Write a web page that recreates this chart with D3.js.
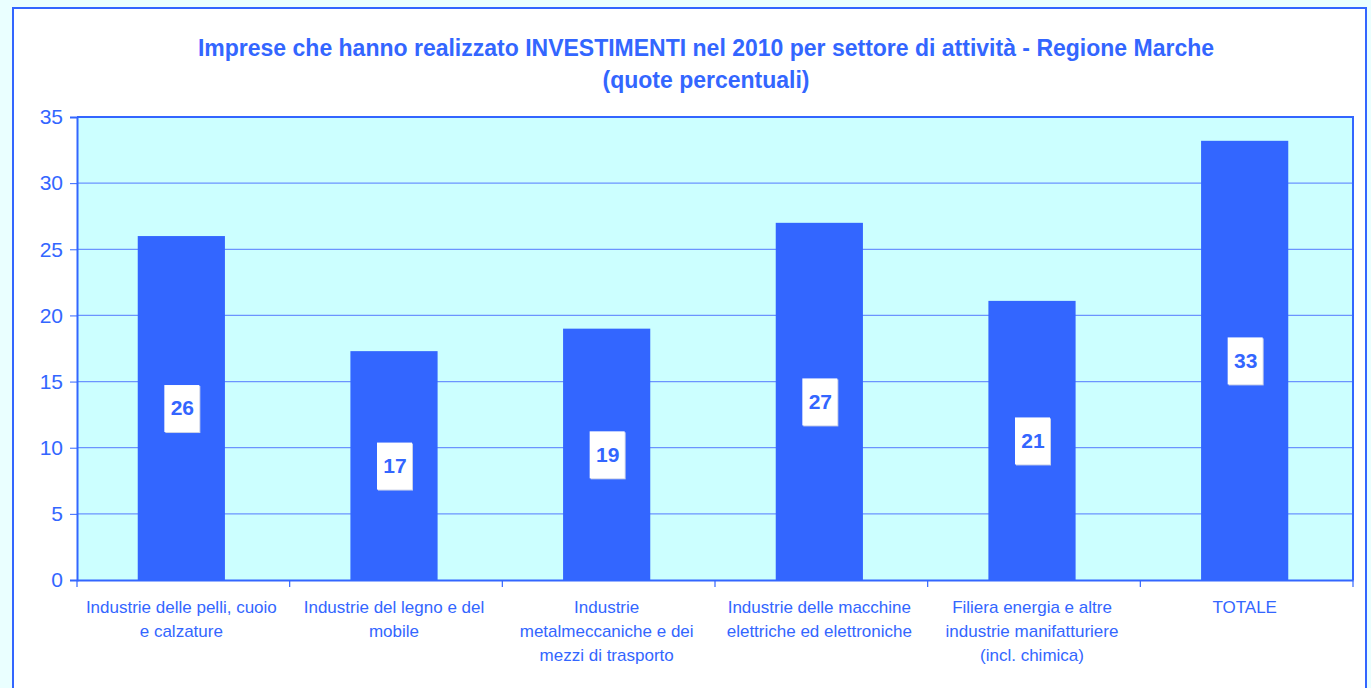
<!DOCTYPE html>
<html><head><meta charset="utf-8">
<script src="https://cdn.jsdelivr.net/npm/d3@7"></script>
<style>
html,body{margin:0;padding:0;background:#eaffff;}
svg{display:block;font-family:"Liberation Sans",Arial,sans-serif;}
</style></head>
<body>
<svg id="chart" width="1371" height="688"></svg>
<script>
const categories = [
  ["Industrie delle pelli, cuoio","e calzature"],
  ["Industrie del legno  e del","mobile"],
  ["Industrie","metalmeccaniche e dei","mezzi di trasporto"],
  ["Industrie delle macchine","elettriche ed elettroniche"],
  ["Filiera energia e altre","industrie manifatturiere","(incl. chimica)"],
  ["TOTALE"]
];
const values = [26.0, 17.3, 19.0, 27.0, 21.1, 33.2];
const valueLabels = ["26","17","19","27","21","33"];
const yTicks = [0,5,10,15,20,25,30,35];
const titleLines = ["Imprese che hanno realizzato INVESTIMENTI nel 2010 per settore di attività - Regione Marche","(quote percentuali)"];

const blue = "#3366ff";
const svg = d3.select("#chart");

// frame
svg.append("rect").attr("x",13).attr("y",8).attr("width",1353).attr("height",700)
  .attr("fill","#ffffff").attr("stroke",blue).attr("stroke-width",2);

const L=77, R=1353, T=117, B=580;
const x = d3.scaleBand().domain(d3.range(categories.length)).range([L-2,R-2]).paddingInner(0.59).paddingOuter(0.295);
const xb = d3.scaleBand().domain(d3.range(categories.length)).range([L,R]);
const y = d3.scaleLinear().domain([0,35]).range([B,T]);

// plot area
svg.append("rect").attr("x",L).attr("y",T).attr("width",R-L).attr("height",B-T)
  .attr("fill","#ccffff");

// gridlines
svg.append("g").selectAll("line").data(yTicks.filter(d=>d>0&&d<35)).join("line")
  .attr("x1",L).attr("x2",R).attr("y1",d=>y(d)).attr("y2",d=>y(d))
  .attr("stroke","#6b94ff").attr("stroke-width",1.2);

// bars
svg.append("g").selectAll("rect").data(values).join("rect")
  .attr("x",(d,i)=>x(i)).attr("width",x.bandwidth())
  .attr("y",d=>y(d)).attr("height",d=>B-y(d)).attr("fill",blue);

// plot border top/right
svg.append("path").attr("d",`M${L},${T}H${R}V${B}`).attr("fill","none").attr("stroke",blue).attr("stroke-width",2);

// y axis
const ya = svg.append("g").attr("transform",`translate(${L},0)`)
  .call(d3.axisLeft(y).tickValues(yTicks).tickSize(7).tickPadding(7));
ya.select(".domain").attr("stroke",blue).attr("stroke-width",2);
ya.selectAll(".tick line").attr("stroke",blue);
ya.selectAll(".tick text").attr("fill",blue).attr("font-size",21).attr("font-family","Liberation Sans, Arial, sans-serif");

// x axis
const xa = svg.append("g").attr("transform",`translate(0,${B})`)
  .call(d3.axisBottom(xb).tickSize(0).tickFormat(""));
xa.select(".domain").attr("stroke",blue).attr("stroke-width",2);
const bounds = d3.range(categories.length+1).map(i=> i<categories.length ? xb(i) : R);
xa.selectAll("line.sep").data(bounds).join("line").attr("class","sep")
  .attr("x1",d=>d).attr("x2",d=>d).attr("y1",0).attr("y2",7).attr("stroke",blue).attr("stroke-width",1.2);

// category labels
const cl = svg.append("g");
categories.forEach((lines,i)=>{
  const cx = xb(i)+xb.bandwidth()/2 - 2;
  const t = cl.append("text").attr("text-anchor","middle").attr("fill",blue)
    .attr("font-size",17).attr("x",cx).attr("y",613);
  lines.forEach((ln,j)=>t.append("tspan").attr("x",cx).attr("dy",j?24:0).text(ln));
});

// value labels
const vl = svg.append("g").selectAll("g").data(values).join("g")
  .attr("transform",(d,i)=>`translate(${x(i)+x.bandwidth()/2},${(y(d)+B)/2})`);
vl.append("rect").attr("x",-16).attr("y",-22).attr("width",35).attr("height",47).attr("fill","#c8d0e8");
vl.append("rect").attr("x",-17).attr("y",-23).attr("width",35).attr("height",47).attr("fill","#ffffff");
vl.append("text").attr("text-anchor","middle").attr("dy","0.35em").attr("x",1)
  .attr("fill",blue).attr("font-weight","bold").attr("font-size",21).text((d,i)=>valueLabels[i]);

// title
svg.append("g").selectAll("text").data(titleLines).join("text")
  .attr("x",706).attr("y",(d,i)=>56+i*32).attr("text-anchor","middle")
  .attr("fill",blue).attr("font-weight","bold").attr("font-size",23).text(d=>d);
</script>
</body></html>
